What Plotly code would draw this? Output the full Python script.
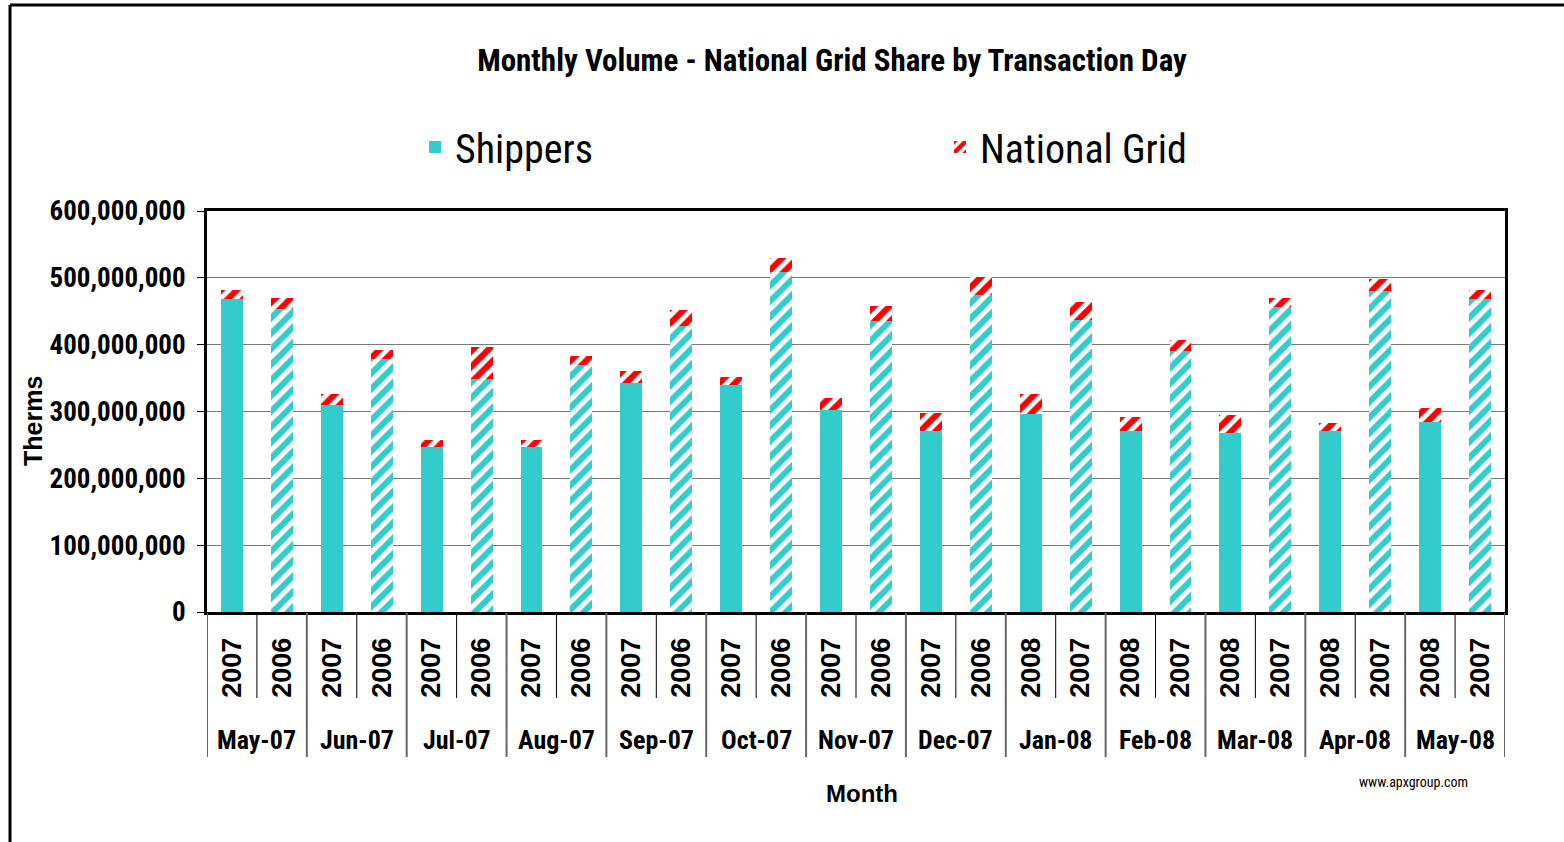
import plotly.graph_objects as go

# ---------------- data ----------------
months = ["May-07", "Jun-07", "Jul-07", "Aug-07", "Sep-07", "Oct-07", "Nov-07",
          "Dec-07", "Jan-08", "Feb-08", "Mar-08", "Apr-08", "May-08"]
year_current = ["2007"] * 8 + ["2008"] * 5
year_previous = ["2006"] * 8 + ["2007"] * 5

# values in millions of therms
shippers_current = [468, 309, 247, 247, 343, 340, 303, 271, 297, 271, 268, 271, 285]
ng_current = [14, 17, 10, 10, 18, 12, 17, 27, 29, 21, 27, 12, 20]
shippers_previous = [453, 379, 348, 369, 428, 509, 435, 475, 437, 391, 457, 481, 468]
ng_previous = [17, 13, 48, 14, 24, 21, 23, 26, 27, 16, 13, 17, 14]

y_tick_values = [0, 100e6, 200e6, 300e6, 400e6, 500e6, 600e6]

# ---------------- build interleaved series ----------------
x_year, shippers, ng, ship_shape = [], [], [], []
for i, m in enumerate(months):
    x_year += [year_current[i], year_previous[i]]
    shippers += [shippers_current[i] * 1e6, shippers_previous[i] * 1e6]
    ng += [ng_current[i] * 1e6, ng_previous[i] * 1e6]
    ship_shape += ["", "/"]
x_pos = list(range(len(x_year)))

TEAL = "#33CCCC"
RED = "#FF0000"
NARROW = "Liberation Sans Narrow, Roboto Condensed, Arial Narrow, Liberation Sans"
WIDE = "Liberation Sans, Arial"

W, H = 1564, 842
L, R, T, B = 207, 1505, 211, 612   # plot area (figure px)


def px(x):
    return (x - L) / (R - L)


def py(y):
    return (B - y) / (B - T)


fig = go.Figure()
fig.add_trace(go.Bar(
    x=x_pos, y=shippers, name="Shippers",
    marker=dict(color=TEAL, line=dict(width=0),
                pattern=dict(shape=ship_shape, fgcolor=TEAL, bgcolor="white",
                             fgopacity=1, size=11, solidity=0.55)),
))
fig.add_trace(go.Bar(
    x=x_pos, y=ng, name="National Grid",
    marker=dict(color=RED, line=dict(width=0),
                pattern=dict(shape="/", fgcolor=RED, bgcolor="white",
                             fgopacity=1, size=11, solidity=0.55)),
))

annotations = [
    dict(text="<b>Therms</b>", x=px(33), y=py(421), xref="paper", yref="paper",
         xanchor="center", yanchor="middle",
         textangle=-90, showarrow=False, font=dict(size=25, family=WIDE)),
    dict(text="<b>Month</b>", x=px(862), y=py(793), xref="paper", yref="paper",
         xanchor="center", yanchor="middle",
         showarrow=False, font=dict(size=24, family=WIDE)),
    dict(text="www.apxgroup.com", x=px(1413), y=py(782), xref="paper", yref="paper",
         xanchor="center", yanchor="middle",
         showarrow=False, font=dict(size=14, family=NARROW)),
]
# month group labels under each pair of bars
for i, m in enumerate(months):
    annotations.append(dict(text=f"<b>{m}</b>", x=2 * i + 0.5, y=py(740),
                            xref="x", yref="paper", xanchor="center", yanchor="middle",
                            showarrow=False, font=dict(size=26, family=NARROW)))

shapes = [
    dict(type="line", xref="paper", yref="paper", x0=px(10), x1=px(1570),
         y0=py(5), y1=py(5), line=dict(color="black", width=3)),
    dict(type="line", xref="paper", yref="paper", x0=px(10), x1=px(10),
         y0=py(5), y1=py(850), line=dict(color="black", width=3)),
]
# separators below the axis: short ones between bars, long ones between months
for k in range(len(x_pos) + 1):
    long_line = (k % 2 == 0)
    shapes.append(dict(type="line", xref="x", yref="paper", x0=k - 0.5, x1=k - 0.5,
                       y0=py(613), y1=py(757 if long_line else 698),
                       line=dict(color="#666666" if long_line else "black",
                                 width=2 if long_line else 1)))

fig.update_layout(
    width=W, height=H,
    barmode="stack", bargap=0.56,
    paper_bgcolor="white", plot_bgcolor="white",
    margin=dict(l=L, r=W - R, t=T, b=H - B, autoexpand=False),
    font=dict(family=NARROW, color="black"),
    title=dict(text="<b>Monthly Volume - National Grid Share by Transaction Day</b>",
               x=832 / W, xanchor="center", y=1 - 60 / H, yanchor="middle",
               font=dict(size=31, family=NARROW)),
    legend=dict(orientation="h", traceorder="normal",
                x=px(415), y=py(147), xanchor="left", yanchor="middle",
                entrywidth=480, entrywidthmode="pixels",
                font=dict(size=40, family=NARROW), bgcolor="rgba(0,0,0,0)"),
    xaxis=dict(
        range=[-0.5, len(x_pos) - 0.5],
        tickvals=x_pos, ticktext=[f"<b>{y}</b>" for y in x_year], tickangle=-90,
        tickfont=dict(size=27, family=WIDE, color="black"),
        ticks="", ticklabelstandoff=12,
        showline=True, linecolor="black", linewidth=3, mirror=True,
        showgrid=False, zeroline=False,
    ),
    yaxis=dict(
        range=[0, 600e6], tickvals=y_tick_values, tickformat=",",
        tickfont=dict(size=27, family=NARROW, color="black", weight="bold"),
        ticks="outside", ticklen=7, tickcolor="black", ticklabelstandoff=6,
        showgrid=True, gridcolor="#7a7a7a", gridwidth=1,
        showline=True, linecolor="black", linewidth=3, mirror=True,
        zeroline=False,
    ),
    annotations=annotations,
    shapes=shapes,
)

fig.write_html("out.html", config={"displayModeBar": False},
               post_script="document.body.style.margin='0px';document.body.style.padding='0px';")
